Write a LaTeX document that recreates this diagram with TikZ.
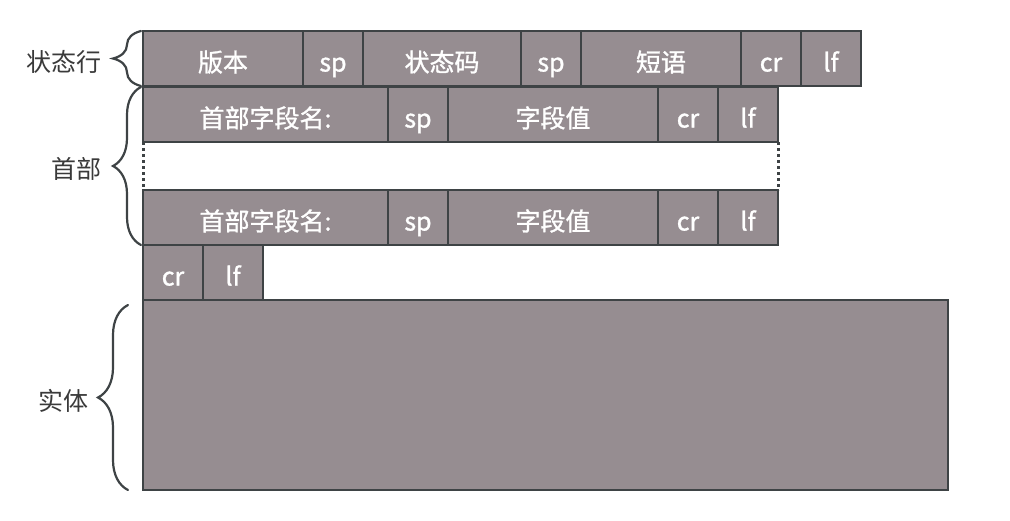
\documentclass[tikz,border=0pt]{standalone}
\usepackage{fontspec}
\setmainfont{Noto Sans CJK SC}
\newfontfamily\cellfont{Noto Sans CJK SC}[FakeBold=1.2]
\usetikzlibrary{positioning,decorations.pathreplacing}
\definecolor{cellfill}{HTML}{968D91}
\definecolor{cellline}{HTML}{3E4345}
\definecolor{labeltext}{HTML}{3A3A3A}

\begin{document}
\begin{tikzpicture}[x=1pt,y=1pt,node distance=0pt,
	cell/.style={draw=cellline,fill=cellfill,line width=2.4pt,inner sep=0pt,outer sep=0pt,
		minimum height=55pt,text height=26pt,text depth=0pt,text=white,
		font=\cellfont\fontsize{25}{25}\selectfont},
	brace/.style={draw=cellline,line width=2.2pt,line cap=round,decorate,decoration={brace,amplitude=#1}},
	brace/.default=28pt,
	part/.style={text=labeltext,inner sep=0pt,yshift=-3pt,font=\fontsize{25}{25}\selectfont},
	gap/.style={draw=cellline,line width=3pt,dash pattern=on 3pt off 3pt}]
	\useasboundingbox (0,0) rectangle (1010,-520);
	% status line
	\node[cell,minimum width=160pt,anchor=north west] (ver) at (143,-31) {版本};
	\node[cell,minimum width=60pt] (sp1) [right=of ver] {sp};
	\node[cell,minimum width=158pt] (code) [right=of sp1] {状态码};
	\node[cell,minimum width=60pt] (sp2) [right=of code] {sp};
	\node[cell,minimum width=160pt] (phrase) [right=of sp2] {短语};
	\node[cell,minimum width=60pt] (cr1) [right=of phrase] {cr};
	\node[cell,minimum width=60pt] (lf1) [right=of cr1] {lf};
	% header fields
	\node[cell,minimum width=245pt] (hname1) [below right=1pt and 0pt of ver.south west] {首部字段名:};
	\node[cell,minimum width=60pt] (hsp1) [right=of hname1] {sp};
	\node[cell,minimum width=210pt] (hval1) [right=of hsp1] {字段值};
	\node[cell,minimum width=60pt] (cr2) [right=of hval1] {cr};
	\node[cell,minimum width=60pt] (lf2) [right=of cr2] {lf};
	\node[cell,minimum width=245pt] (hname2) [below right=48pt and 0pt of hname1.south west] {首部字段名:};
	\node[cell,minimum width=60pt] (hsp2) [right=of hname2] {sp};
	\node[cell,minimum width=210pt] (hval2) [right=of hsp2] {字段值};
	\node[cell,minimum width=60pt] (cr3) [right=of hval2] {cr};
	\node[cell,minimum width=60pt] (lf3) [right=of cr3] {lf};
	\draw[gap] (hname1.south west) -- (hname2.north west);
	\draw[gap] (lf2.south east) -- (lf3.north east);
	% empty line and body
	\node[cell,minimum width=60pt] (cr4) [below right=0pt and 0pt of hname2.south west] {cr};
	\node[cell,minimum width=60pt] (lf4) [right=of cr4] {lf};
	\node[cell,minimum width=805pt,minimum height=190pt] (body) [below right=0pt and 0pt of cr4.south west] {};
	% braces
	\draw[brace] ([xshift=-2pt]ver.south west) -- ([xshift=-2pt]ver.north west)
		node[part,midway,left=38pt] (lstatus) {状态行};
	\draw[brace] ([xshift=-2pt]hname2.south west) -- ([xshift=-2pt]hname1.north west)
		node[part,midway,left=38pt] (lheader) {首部};
	\draw[brace=30pt] ([xshift=-15pt]body.south west) -- ([xshift=-15pt,yshift=-5pt]body.north west)
		node[part,midway,left=38pt] (lbody) {实体};
\end{tikzpicture}
\end{document}
